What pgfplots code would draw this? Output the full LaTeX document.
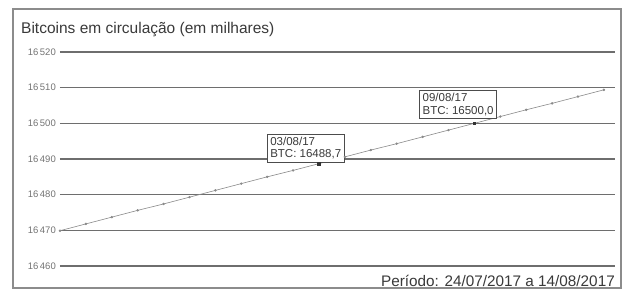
\documentclass[border=0pt]{standalone}
\usepackage{fontspec}
\setmainfont{Liberation Sans}
\usepackage{pgfplots}
\pgfplotsset{compat=1.18}
\definecolor{gridc}{HTML}{6E6E6E}
\definecolor{linec}{HTML}{8A8A8A}
\definecolor{framec}{HTML}{8C8C8C}
\definecolor{textc}{HTML}{3A3A3A}
\begin{document}
\begin{tikzpicture}[x=1pt,y=1pt]
\useasboundingbox (0,0) rectangle (625,293);
\fill[white] (0,0) rectangle (625,293);
\draw[framec, line width=1.6pt] (13,5) rectangle (621,284);
\node[anchor=west, font=\fontsize{15.5}{17}\selectfont, text=textc, inner sep=0pt] at (21,263) {Bitcoins em circulação (em milhares)};
\node[anchor=east, font=\fontsize{15.3}{17}\selectfont, text=textc, inner sep=0pt] at (615,12) {Período: 24/07/2017 a 14/08/2017};
\begin{axis}[
  at={(60pt,27pt)}, anchor=south west,
  scale only axis, width=555pt, height=214pt,
  xmin=0, xmax=21.43, ymin=16460, ymax=16520,
  axis lines=none,
  xtick=\empty, ytick=\empty,
  clip=false,
]
\foreach \yy in {16460,16470,16480,16490,16500,16510,16520} {
  \edef\tmp{\noexpand\draw[gridc, line width=1.1pt] (axis cs:0,\yy) -- (axis cs:21.43,\yy);}
  \tmp
  \edef\tmp{\noexpand\node[anchor=east, font=\noexpand\fontsize{9.5}{10}\noexpand\selectfont, text=gray!90!black, inner sep=0pt, xshift=-4pt] at (axis cs:0,\yy) {\noexpand\pgfmathprintnumber[assume math mode=true, 1000 sep={\noexpand\,}]{\yy}};}
  \tmp
}
\addplot[linec, line width=0.6pt, mark=*, mark size=0.9pt, mark options={fill=linec, draw=linec}] coordinates {
(0,16469.9) (1,16471.8) (2,16473.7) (3,16475.6) (4,16477.4) (5,16479.3)
(6,16481.2) (7,16483.1) (8,16485.0) (9,16486.8) (10,16488.7) (11,16490.6)
(12,16492.5) (13,16494.3) (14,16496.2) (15,16498.1) (16,16500.0) (17,16501.9)
(18,16503.8) (19,16505.6) (20,16507.5) (21,16509.4)
};
\addplot[only marks, mark=square*, mark size=1.3pt, mark options={fill=black!80, draw=black!80}] coordinates {(10,16488.7) (16,16500.0)};
\node[draw=black!70, fill=white, line width=0.6pt, anchor=south west, xshift=-52pt, yshift=1.5pt, align=left, font=\fontsize{11.5}{12.5}\selectfont, text=textc, inner xsep=3pt, inner ysep=2.5pt] at (axis cs:10,16488.7) {03/08/17\\BTC: 16488,7};
\node[draw=black!70, fill=white, line width=0.6pt, anchor=south west, xshift=-55pt, yshift=5pt, align=left, font=\fontsize{11.5}{12.5}\selectfont, text=textc, inner xsep=3pt, inner ysep=2.5pt] at (axis cs:16,16500.0) {09/08/17\\BTC: 16500,0};
\end{axis}
\end{tikzpicture}
\end{document}
